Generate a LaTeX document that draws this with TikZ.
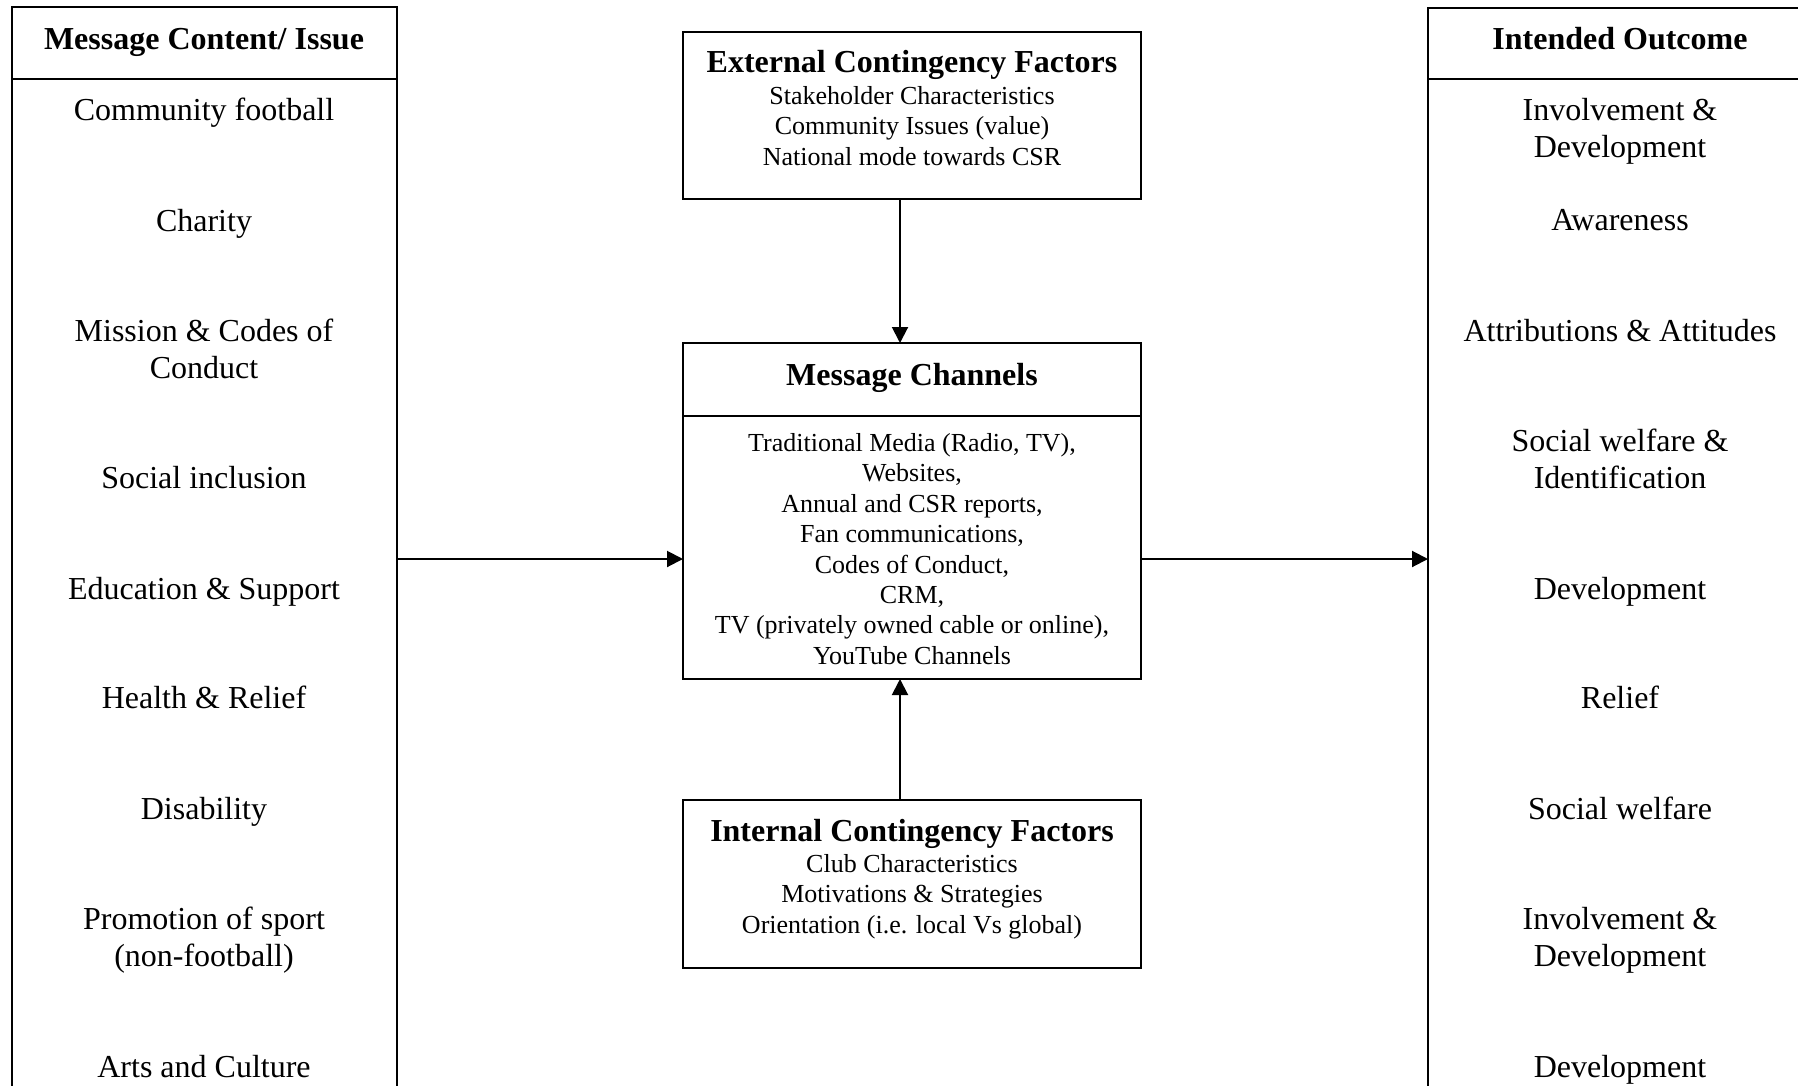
\documentclass[tikz,border=0pt]{standalone}
\usepackage{fontspec}
\setmainfont{Liberation Serif}
\usetikzlibrary{arrows.meta}
\begin{document}
\begin{tikzpicture}[x=0.5pt,y=-0.5pt,
  frame/.style={draw, line width=1pt, inner sep=0pt, outer sep=0pt},
  head/.style={font=\fontsize{16}{18.35}\selectfont\bfseries, anchor=base, inner sep=0pt},
  item/.style={font=\fontsize{16}{18.35}\selectfont, align=center, anchor=north, inner sep=0pt},
  sub/.style={font=\fontsize{13}{15.2}\selectfont, align=center, anchor=north, inner sep=0pt},
  arr/.style={line width=1pt, -{Triangle[length=8pt,width=8pt]}}]
\useasboundingbox (0,0) rectangle (1798,1086);
\clip (0,0) rectangle (1798,1086);
% side columns
\node[frame, minimum width=192.5pt, minimum height=546.5pt] (content) at (204.5,553.5) {};
\node[frame, minimum width=192pt, minimum height=546pt] (outcome) at (1620,554) {};
\coordinate (divl) at (0,79);
\draw[line width=1pt] (content.west |- divl) -- (content.east |- divl);
\draw[line width=1pt] (outcome.west |- divl) -- (outcome.east |- divl);
\node[head] (hcontent) at (204,50) {Message Content/ Issue};
\node[head] (houtcome) at (1620,50) {Intended Outcome};
% left items
\node[item] (c1) at (204,98) {Community football};
\node[item] (c2) at (204,209) {Charity};
\node[item] (c3) at (204,319) {Mission \& Codes of\\Conduct};
\node[item] (c4) at (204,466) {Social inclusion};
\node[item] (c5) at (204,577) {Education \& Support};
\node[item] (c6) at (204,686) {Health \& Relief};
\node[item] (c7) at (204,797) {Disability};
\node[item] (c8) at (204,907) {Promotion of sport\\(non-football)};
\node[item] (c9) at (204,1055) {Arts and Culture};
% right items
\node[item] (o1) at (1620,98) {Involvement \&\\Development};
\node[item] (o2) at (1620,209) {Awareness};
\node[item] (o3) at (1620,319) {Attributions \& Attitudes};
\node[item] (o4) at (1620,429) {Social welfare \&\\Identification};
\node[item] (o5) at (1620,577) {Development};
\node[item] (o6) at (1620,686) {Relief};
\node[item] (o7) at (1620,797) {Social welfare};
\node[item] (o8) at (1620,907) {Involvement \&\\Development};
\node[item] (o9) at (1620,1055) {Development};
% centre boxes
\node[frame, minimum width=229pt, minimum height=83.5pt] (external) at (912,115.5) {};
\node[frame, minimum width=229pt, minimum height=168pt] (channels) at (912,511) {};
\node[frame, minimum width=229pt, minimum height=84pt] (internal) at (912,884) {};
\coordinate (divc) at (0,416);
\draw[line width=1pt] (channels.west |- divc) -- (channels.east |- divc);
\node[head] (text) at (912,73) {External Contingency Factors};
\node[sub] (extlist) at (912,86) {Stakeholder Characteristics\\Community Issues (value)\\National mode towards CSR};
\node[head] (chtitle) at (912,385) {Message Channels};
\node[sub] (chlist) at (912,433) {Traditional Media (Radio, TV),\\Websites,\\Annual and CSR reports,\\Fan communications,\\Codes of Conduct,\\CRM,\\TV (privately owned cable or online),\\YouTube Channels};
\node[head] (inttitle) at (912,841) {Internal Contingency Factors};
\node[sub] (intlist) at (912,854) {Club Characteristics\\Motivations \& Strategies\\Orientation (i.e. local Vs global)};
% connectors
\coordinate (arrowx) at (900,0);
\coordinate (midrow) at (0,559);
\draw[arr] (external.south -| arrowx) -- (channels.north -| arrowx);
\draw[arr] (internal.north -| arrowx) -- (channels.south -| arrowx);
\draw[arr] (content.east |- midrow) -- (channels.west |- midrow);
\draw[arr] (channels.east |- midrow) -- (outcome.west |- midrow);
\end{tikzpicture}
\end{document}
